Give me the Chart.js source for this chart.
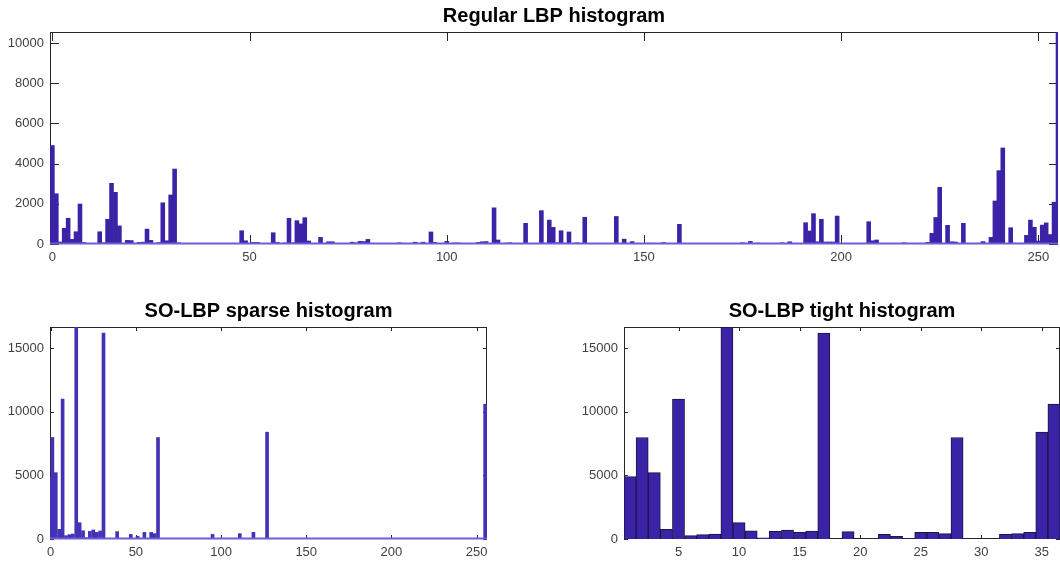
<!DOCTYPE html>
<html>
<head>
<meta charset="utf-8">
<script src="https://cdn.jsdelivr.net/npm/chart.js"></script>
<style>
  body { margin: 0; background: #fff; width: 1060px; height: 563px; overflow: hidden; position: relative; }
  canvas { position: absolute; }
</style>
</head>
<body>
<canvas id="regular" width="1060" height="270" style="left:0px;top:0px"></canvas>
<canvas id="sparse" width="500" height="273" style="left:0px;top:290px"></canvas>
<canvas id="tight" width="500" height="273" style="left:560px;top:290px"></canvas>
<script>
// regular LBP histogram, bins 0..255
const regularValues = [
  4900,2500,100,780,1280,230,610,1990,70,20,10,20,610,60,1230,3020,
  2570,900,40,180,170,20,80,90,740,180,20,70,2050,160,2440,3730,
  60,10,10,20,10,10,20,10,10,10,20,10,10,20,10,20,
  660,160,30,80,80,20,10,20,560,80,10,50,1280,60,1160,1000,
  1310,150,20,30,330,20,110,110,20,10,10,20,90,50,130,120,
  230,10,10,10,10,10,10,10,60,10,10,10,90,20,90,30,
  600,80,10,20,130,20,50,50,10,10,10,10,80,110,120,30,
  1800,200,20,40,60,10,10,10,1030,30,20,20,1660,40,1190,830,
  60,660,40,600,20,60,20,1330,30,10,10,10,10,10,10,1370,
  30,240,20,120,10,10,10,40,40,30,10,70,10,10,10,980,
  30,10,10,10,10,10,10,10,10,10,10,10,10,10,10,60,
  20,130,20,50,10,10,10,10,10,60,20,110,10,10,10,1060,
  650,1510,110,1230,100,100,100,1390,10,10,10,10,10,10,10,1110,
  160,200,20,30,10,10,10,10,60,10,10,10,10,10,80,530,
  1320,2820,40,930,110,100,20,1030,10,10,10,40,120,20,330,2140,
  3650,4780,20,810,40,20,40,430,1190,830,150,940,1050,470,2080,10600
];

// rotation invariant patterns (positions in the sparse histogram)
const riPatterns = [0,1,3,5,7,9,11,13,15,17,19,21,23,25,27,29,31,37,39,43,45,47,51,53,55,59,61,63,85,87,91,95,111,119,127,255];
// SO-LBP tight histogram, bins 1..36
const tightBins = [1,2,3,4,5,6,7,8,9,10,11,12,13,14,15,16,17,18,19,20,21,22,23,24,25,26,27,28,29,30,31,32,33,34,35,36];
const tightValues = [4900,7970,5210,760,10980,260,340,390,16650,1280,650,100,600,710,520,630,
  16170,0,580,0,0,360,210,30,520,520,420,7970,0,0,0,360,420,520,8390,10590];

const regularXTicks = [0,50,100,150,200,250];
const regularYTicks = [0,2000,4000,6000,8000,10000];
const sparseXTicks = [0,50,100,150,200,250];
const tightXTicks = [5,10,15,20,25,30,35];
const soYTicks = [0,5000,10000,15000];

const FONT = 'Liberation Sans, Arial, Helvetica, sans-serif';
const BAR = '#3a23a6';

const boxPlugin = {
  id: 'box',
  beforeDatasetsDraw(chart, args, opts) {
    const ctx = chart.ctx, a = chart.chartArea, x = chart.scales.x, y = chart.scales.y;
    const len = opts.len || 5;
    ctx.save();
    ctx.strokeStyle = '#262626';
    ctx.lineWidth = 1;
    ctx.strokeRect(a.left + 0.5, a.top + 0.5, a.right - a.left - 1, a.bottom - a.top - 1);
    ctx.beginPath();
    x.ticks.forEach(t => {
      const px = Math.round(x.getPixelForValue(t.value)) + 0.5;
      ctx.moveTo(px, a.bottom); ctx.lineTo(px, a.bottom - len);
      ctx.moveTo(px, a.top); ctx.lineTo(px, a.top + len);
    });
    y.ticks.forEach(t => {
      const py = Math.round(y.getPixelForValue(t.value)) + 0.5;
      ctx.moveTo(a.left, py); ctx.lineTo(a.left + len, py);
      ctx.moveTo(a.right, py); ctx.lineTo(a.right - len, py);
    });
    ctx.stroke();
    ctx.restore();
  },
  afterDatasetsDraw(chart, args, opts) {
    if (!opts.baseline) return;
    const ctx = chart.ctx, a = chart.chartArea;
    const py = chart.scales.y.getPixelForValue(0);
    ctx.save();
    ctx.strokeStyle = opts.baseline;
    ctx.lineWidth = 2;
    ctx.beginPath();
    ctx.moveTo(a.left, py - 0.5);
    ctx.lineTo(a.right, py - 0.5);
    ctx.stroke();
    ctx.restore();
  }
};

function axis(min, max, ticks, fit, pad) {
  return {
    type: 'linear', min: min, max: max, offset: false,
    grid: { display: false, drawTicks: false },
    border: { display: false },
    ticks: { color: '#404040', font: { family: FONT, size: 13 }, padding: pad, maxRotation: 0, autoSkip: false,
             callback: v => String(v) },
    afterBuildTicks: s => { s.ticks = ticks.map(v => ({ value: v })); },
    afterFit: fit
  };
}

function makeChart(id, title, dataset, o) {
  return new Chart(document.getElementById(id), {
    type: 'bar',
    data: { datasets: [dataset] },
    options: {
      responsive: false, animation: false, devicePixelRatio: 1,
      layout: { padding: { left: 0, right: o.right, top: 0, bottom: 0 } },
      plugins: {
        legend: { display: false },
        tooltip: { enabled: false },
        title: { display: true, text: title, fullSize: false, color: '#000',
                 font: { family: FONT, size: 20, weight: 'bold' },
                 padding: { top: o.titleTop, bottom: o.titleBottom } },
        box: { len: o.tickLen, baseline: o.baseline }
      },
      scales: {
        x: axis(o.xmin, o.xmax, o.xticks, s => { s.height = o.xh; }, 6),
        y: axis(0, o.ymax, o.yticks, s => { s.width = o.yw; }, 6)
      }
    },
    plugins: [boxPlugin]
  });
}

makeChart('regular', 'Regular LBP histogram', {
  data: regularValues.map((v, i) => ({ x: i, y: v })),
  backgroundColor: BAR, borderWidth: 0, barPercentage: 1, categoryPercentage: 1, clip: 0
}, { right: 2, titleTop: 4, titleBottom: 4, tickLen: 9, baseline: '#6a5ed6',
     xmin: -0.6, xmax: 255, xticks: regularXTicks, ymax: 10550, yticks: regularYTicks, xh: 26, yw: 50 });

const sparseValues = new Array(256).fill(0);
riPatterns.forEach((p, i) => { sparseValues[p] = tightValues[i]; });

makeChart('sparse', 'SO-LBP sparse histogram', {
  data: sparseValues.map((v, i) => ({ x: i, y: v })),
  backgroundColor: '#4232b6', borderWidth: 0, barThickness: 3, clip: 0
}, { right: 13, titleTop: 9, titleBottom: 4, tickLen: 4, baseline: '#6a5ed6',
     xmin: -0.4, xmax: 256.1, xticks: sparseXTicks, ymax: 16650, yticks: soYTicks, xh: 24, yw: 50 });

makeChart('tight', 'SO-LBP tight histogram', {
  data: tightValues.map((v, i) => ({ x: tightBins[i], y: v })),
  backgroundColor: BAR, borderColor: '#1c1640', borderWidth: 1, borderSkipped: 'start',
  barPercentage: 1, categoryPercentage: 1, clip: 0
}, { right: 0, titleTop: 9, titleBottom: 4, tickLen: 4, baseline: null,
     xmin: 0.5, xmax: 36.5, xticks: tightXTicks, ymax: 16650, yticks: soYTicks, xh: 24, yw: 64 });
</script>
</body>
</html>
